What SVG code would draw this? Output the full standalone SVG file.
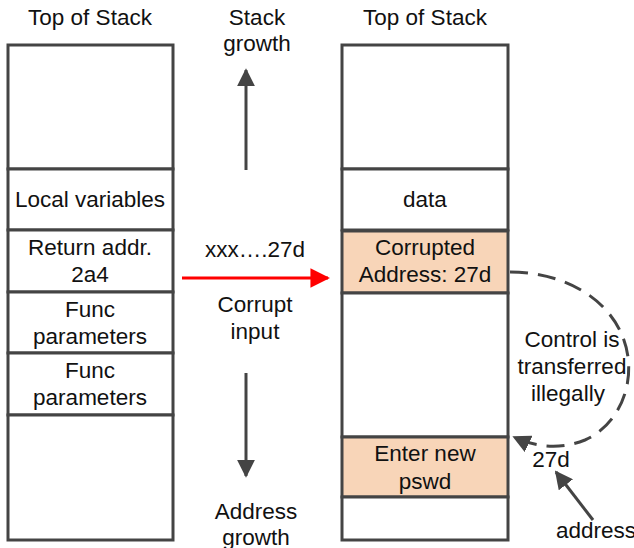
<svg xmlns="http://www.w3.org/2000/svg" width="634" height="548" viewBox="0 0 634 548">
  <style>
    text { font-family: "Liberation Sans", Arial, sans-serif; font-size: 22.5px; fill: #111; text-anchor: middle; }
    .cell { fill: #fff; stroke: #444; stroke-width: 3; }
    .hot { fill: #f8d5b8; stroke: #444; stroke-width: 3; }
    .conn { fill: none; stroke: #444; stroke-width: 3; }
  </style>
  <defs>
    <marker id="ah" viewBox="0 0 10 10" refX="9" refY="5" markerWidth="6" markerHeight="6" orient="auto" markerUnits="strokeWidth">
      <path d="M0,0 L10,5 L0,10 z" fill="#444"/>
    </marker>
    <marker id="ahRed" viewBox="0 0 10 10" refX="9" refY="5" markerWidth="6.5" markerHeight="6.5" orient="auto" markerUnits="strokeWidth">
      <path d="M0,0 L10,5 L0,10 z" fill="#f00"/>
    </marker>
  </defs>

  <rect width="634" height="548" fill="#fff"/>

  <!-- left stack -->
  <g id="left-stack">
    <text x="90" y="25">Top of Stack</text>
    <rect class="cell" x="8" y="45" width="165" height="124"/>
    <g id="left-locals">
      <rect class="cell" x="8" y="169" width="165" height="61"/>
      <text x="90" y="207">Local variables</text>
    </g>
    <g id="left-ret">
      <rect class="cell" x="8" y="230" width="165" height="62"/>
      <text x="90" y="255">Return addr.</text>
      <text x="90" y="282">2a4</text>
    </g>
    <g id="left-params1">
      <rect class="cell" x="8" y="292" width="165" height="61"/>
      <text x="90" y="317">Func</text>
      <text x="90" y="344">parameters</text>
    </g>
    <g id="left-params2">
      <rect class="cell" x="8" y="353" width="165" height="62"/>
      <text x="90" y="378">Func</text>
      <text x="90" y="405">parameters</text>
    </g>
    <rect class="cell" x="8" y="415" width="165" height="125"/>
  </g>

  <!-- right stack -->
  <g id="right-stack">
    <text x="425" y="25">Top of Stack</text>
    <rect class="cell" x="342" y="45" width="166" height="124"/>
    <g id="right-data">
      <rect class="cell" x="342" y="169" width="166" height="61"/>
      <text x="425" y="207">data</text>
    </g>
    <g id="right-corrupt">
      <rect class="hot" x="342" y="231" width="166" height="62"/>
      <text x="425" y="255">Corrupted</text>
      <text x="425" y="282">Address: 27d</text>
    </g>
    <rect class="cell" x="342" y="293" width="166" height="144"/>
    <g id="right-pswd">
      <rect class="hot" x="342" y="437" width="166" height="60"/>
      <text x="425" y="461">Enter new</text>
      <text x="425" y="489">pswd</text>
    </g>
    <rect class="cell" x="342" y="497" width="166" height="43"/>
  </g>

  <!-- labels between and beside the stacks -->
  <g id="labels">
    <text x="257" y="25">Stack</text>
    <text x="257" y="51">growth</text>
    <text x="255" y="257">xxx….27d</text>
    <text x="255" y="312">Corrupt</text>
    <text x="255" y="339">input</text>
    <text x="256" y="519">Address</text>
    <text x="256" y="545">growth</text>
    <text x="572" y="347">Control is</text>
    <text x="572" y="374">transferred</text>
    <text x="568" y="401">illegally</text>
    <text x="551" y="467">27d</text>
    <text x="556" y="538" style="text-anchor:start">address</text>
  </g>

  <!-- connectors -->
  <g id="connectors">
    <line class="conn" x1="246" y1="170" x2="246" y2="70" marker-end="url(#ah)"/>
    <line class="conn" x1="246" y1="373" x2="246" y2="476" marker-end="url(#ah)"/>
    <line x1="182" y1="278" x2="328" y2="278" stroke="#f00" stroke-width="3" fill="none" marker-end="url(#ahRed)"/>
    <path class="conn" d="M510,272 C560,272 605,295 622,335 C640,378 620,425 585,440 C560,450 535,447 514,437" stroke-dasharray="18,10" marker-end="url(#ah)"/>
    <line class="conn" x1="593" y1="520" x2="556" y2="472" marker-end="url(#ah)"/>
  </g>
</svg>
